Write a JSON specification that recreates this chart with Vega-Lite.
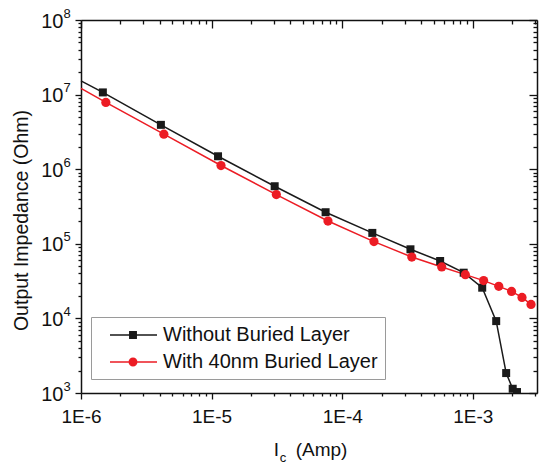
{
  "$schema": "https://vega.github.io/schema/vega-lite/v6.json",
  "width": 456,
  "height": 373,
  "autosize": "none",
  "padding": {"left": 81, "top": 20, "right": 3, "bottom": 71},
  "background": "white",
  "config": {
    "view": {"stroke": null},
    "font": "Liberation Sans",
    "axis": {"grid": false, "domainColor": "#111", "tickColor": "#111", "labelColor": "#111", "titleColor": "#111", "domainWidth": 1.5, "tickWidth": 1.3, "labelFont": "Liberation Sans", "titleFont": "Liberation Sans", "titleFontWeight": "normal"}
  },
  "data": {
    "values": [
      {"series": "Without Buried Layer", "x": 1e-6, "y": 1.53e7},
      {"series": "Without Buried Layer", "x": 1.47e-6, "y": 1.07e7},
      {"series": "Without Buried Layer", "x": 4.09e-6, "y": 3.93e6},
      {"series": "Without Buried Layer", "x": 1.12e-5, "y": 1.49e6},
      {"series": "Without Buried Layer", "x": 3.04e-5, "y": 5.91e5},
      {"series": "Without Buried Layer", "x": 7.46e-5, "y": 2.65e5},
      {"series": "Without Buried Layer", "x": 1.70e-4, "y": 1.40e5},
      {"series": "Without Buried Layer", "x": 3.33e-4, "y": 8.44e4},
      {"series": "Without Buried Layer", "x": 5.62e-4, "y": 5.88e4},
      {"series": "Without Buried Layer", "x": 8.51e-4, "y": 4.10e4},
      {"series": "Without Buried Layer", "x": 1.18e-3, "y": 2.58e4},
      {"series": "Without Buried Layer", "x": 1.51e-3, "y": 9.2e3},
      {"series": "Without Buried Layer", "x": 1.80e-3, "y": 1.85e3},
      {"series": "Without Buried Layer", "x": 2.02e-3, "y": 1.14e3},
      {"series": "Without Buried Layer", "x": 2.18e-3, "y": 1.03e3},
      {"series": "With 40nm Buried Layer", "x": 1e-6, "y": 1.21e7},
      {"series": "With 40nm Buried Layer", "x": 1.55e-6, "y": 7.85e6},
      {"series": "With 40nm Buried Layer", "x": 4.31e-6, "y": 2.95e6},
      {"series": "With 40nm Buried Layer", "x": 1.18e-5, "y": 1.12e6},
      {"series": "With 40nm Buried Layer", "x": 3.13e-5, "y": 4.57e5},
      {"series": "With 40nm Buried Layer", "x": 7.78e-5, "y": 2.02e5},
      {"series": "With 40nm Buried Layer", "x": 1.75e-4, "y": 1.07e5},
      {"series": "With 40nm Buried Layer", "x": 3.41e-4, "y": 6.65e4},
      {"series": "With 40nm Buried Layer", "x": 5.78e-4, "y": 4.89e4},
      {"series": "With 40nm Buried Layer", "x": 8.77e-4, "y": 3.86e4},
      {"series": "With 40nm Buried Layer", "x": 1.21e-3, "y": 3.21e4},
      {"series": "With 40nm Buried Layer", "x": 1.58e-3, "y": 2.69e4},
      {"series": "With 40nm Buried Layer", "x": 1.98e-3, "y": 2.30e4},
      {"series": "With 40nm Buried Layer", "x": 2.38e-3, "y": 1.91e4},
      {"series": "With 40nm Buried Layer", "x": 2.79e-3, "y": 1.54e4}
    ]
  },
  "resolve": {"axis": {"x": "independent", "y": "independent"}},
  "layer": [
    {
      "mark": {"type": "line", "strokeWidth": 1.5},
      "encoding": {
        "x": {"field": "x", "type": "quantitative", "scale": {"type": "log", "domain": [1e-6, 3.1e-3], "nice": false},
          "axis": {"orient": "bottom", "values": [1e-6, 1e-5, 1e-4, 1e-3], "labelExpr": "'1E' + round(log(datum.value)/LN10)", "tickSize": 6, "labelPadding": 8, "labelFontSize": 19, "labelFlush": false, "title": "(Amp)", "titleFontSize": 19, "titleX": 240, "titleY": 62, "titleAlign": "center", "titleBaseline": "alphabetic"}},
        "y": {"field": "y", "type": "quantitative", "scale": {"type": "log", "domain": [1e3, 1e8], "nice": false},
          "axis": {"orient": "left", "values": [1e3, 1e4, 1e5, 1e6, 1e7, 1e8], "labelExpr": "'10'", "tickSize": 6, "labelPadding": 12, "labelFontSize": 20, "labelFlush": false, "labelOffset": 1, "title": "Output Impedance (Ohm)", "titleFontSize": 19.5, "titleX": -54, "titleY": 200, "titleBaseline": "alphabetic"}},
        "stroke": {"field": "series", "type": "nominal", "scale": {"domain": ["Without Buried Layer", "With 40nm Buried Layer"], "range": ["#1a1a1a", "#ec1c24"]},
          "legend": {"title": null, "orient": "none", "legendX": 10, "legendY": 297, "padding": 7, "rowPadding": 6, "strokeColor": "#9a9a9a", "fillColor": "white", "labelFontSize": 20, "labelFont": "Liberation Sans", "labelColor": "#111", "labelOffset": 43, "labelLimit": 400, "symbolSize": 400, "symbolStrokeWidth": 1.5,
            "encode": {"symbols": {"update": {
              "shape": {"signal": "datum.value === 'Without Buried Layer' ? 'M0.1,0H4.8M2.08,-0.32H2.72V0.32H2.08Z' : 'M0.1,0H4.8M2.77,0A0.37,0.37,0,1,1,2.03,0A0.37,0.37,0,1,1,2.77,0Z'"},
              "fill": {"signal": "datum.value === 'Without Buried Layer' ? '#1a1a1a' : '#ec1c24'"},
              "stroke": {"signal": "datum.value === 'Without Buried Layer' ? '#1a1a1a' : '#ec1c24'"},
              "strokeWidth": {"value": 1.5},
              "opacity": {"value": 1}
            }}}}}
      }
    },
    {
      "transform": [{"filter": "datum.x > 1.2e-6 && datum.series === 'Without Buried Layer'"}],
      "mark": {"type": "point", "shape": "square", "filled": true, "opacity": 1, "color": "#1a1a1a", "size": 64, "clip": true},
      "encoding": {
        "x": {"field": "x", "type": "quantitative", "scale": {"type": "log", "domain": [1e-6, 3.1e-3], "nice": false},
          "axis": {"orient": "bottom", "values": [2e-6, 3e-6, 4e-6, 5e-6, 6e-6, 7e-6, 8e-6, 9e-6, 2e-5, 3e-5, 4e-5, 5e-5, 6e-5, 7e-5, 8e-5, 9e-5, 2e-4, 3e-4, 4e-4, 5e-4, 6e-4, 7e-4, 8e-4, 9e-4, 2e-3, 3e-3], "labels": false, "domain": false, "tickSize": 3, "title": "I", "titleFontSize": 19, "titleX": 195, "titleY": 62, "titleBaseline": "alphabetic", "titleAlign": "center"}},
        "y": {"field": "y", "type": "quantitative", "scale": {"type": "log", "domain": [1e3, 1e8], "nice": false},
          "axis": {"orient": "left", "values": [2e3, 3e3, 4e3, 5e3, 6e3, 7e3, 8e3, 9e3, 2e4, 3e4, 4e4, 5e4, 6e4, 7e4, 8e4, 9e4, 2e5, 3e5, 4e5, 5e5, 6e5, 7e5, 8e5, 9e5, 2e6, 3e6, 4e6, 5e6, 6e6, 7e6, 8e6, 9e6, 2e7, 3e7, 4e7, 5e7, 6e7, 7e7, 8e7, 9e7], "labels": false, "domain": false, "tickSize": 3, "title": null}}
      }
    },
    {
      "transform": [{"filter": "datum.x > 1.2e-6 && datum.series === 'With 40nm Buried Layer'"}],
      "mark": {"type": "point", "shape": "circle", "filled": true, "opacity": 1, "color": "#ec1c24", "size": 85, "clip": true},
      "encoding": {
        "x": {"field": "x", "type": "quantitative", "scale": {"type": "log", "domain": [1e-6, 3.1e-3], "nice": false},
          "axis": {"orient": "bottom", "values": [1e-6], "labels": false, "ticks": false, "domain": false, "title": "c", "titleFontSize": 13, "titleX": 201.5, "titleY": 68, "titleBaseline": "alphabetic", "titleAlign": "center"}},
        "y": {"field": "y", "type": "quantitative", "scale": {"type": "log", "domain": [1e3, 1e8], "nice": false}, "axis": null}
      }
    },
    {
      "mark": {"type": "point", "opacity": 0},
      "encoding": {
        "x": {"field": "x", "type": "quantitative", "scale": {"type": "log", "domain": [1e-6, 3.1e-3], "nice": false},
          "axis": {"orient": "top", "values": [1e-6, 1e-5, 1e-4, 1e-3], "labels": false, "tickSize": -8, "title": null}},
        "y": {"field": "y", "type": "quantitative", "scale": {"type": "log", "domain": [1e3, 1e8], "nice": false},
          "axis": {"orient": "right", "values": [1e3, 1e4, 1e5, 1e6, 1e7, 1e8], "labels": false, "tickSize": -8, "title": null}}
      }
    },
    {
      "mark": {"type": "point", "opacity": 0},
      "encoding": {
        "x": {"field": "x", "type": "quantitative", "scale": {"type": "log", "domain": [1e-6, 3.1e-3], "nice": false},
          "axis": {"orient": "top", "values": [2e-6, 3e-6, 4e-6, 5e-6, 6e-6, 7e-6, 8e-6, 9e-6, 2e-5, 3e-5, 4e-5, 5e-5, 6e-5, 7e-5, 8e-5, 9e-5, 2e-4, 3e-4, 4e-4, 5e-4, 6e-4, 7e-4, 8e-4, 9e-4, 2e-3, 3e-3], "labels": false, "domain": false, "tickSize": -4, "title": null}},
        "y": {"field": "y", "type": "quantitative", "scale": {"type": "log", "domain": [1e3, 1e8], "nice": false},
          "axis": {"orient": "right", "values": [2e3, 3e3, 4e3, 5e3, 6e3, 7e3, 8e3, 9e3, 2e4, 3e4, 4e4, 5e4, 6e4, 7e4, 8e4, 9e4, 2e5, 3e5, 4e5, 5e5, 6e5, 7e5, 8e5, 9e5, 2e6, 3e6, 4e6, 5e6, 6e6, 7e6, 8e6, 9e6, 2e7, 3e7, 4e7, 5e7, 6e7, 7e7, 8e7, 9e7], "labels": false, "domain": false, "tickSize": -4, "title": null}}
      }
    },
    {
      "mark": {"type": "point", "opacity": 0},
      "encoding": {
        "x": {"field": "x", "type": "quantitative", "scale": {"type": "log", "domain": [1e-6, 3.1e-3], "nice": false}, "axis": null},
        "y": {"field": "y", "type": "quantitative", "scale": {"type": "log", "domain": [1e3, 1e8], "nice": false},
          "axis": {"orient": "left", "values": [1e3, 1e4, 1e5, 1e6, 1e7, 1e8], "labelExpr": "'' + round(log(datum.value)/LN10)", "domain": false, "ticks": true, "tickSize": 0, "tickOpacity": 0, "labelPadding": 18, "labelAlign": "left", "labelFontSize": 13, "labelOffset": -7, "labelFlush": false, "title": null}}
      }
    }
  ]
}
